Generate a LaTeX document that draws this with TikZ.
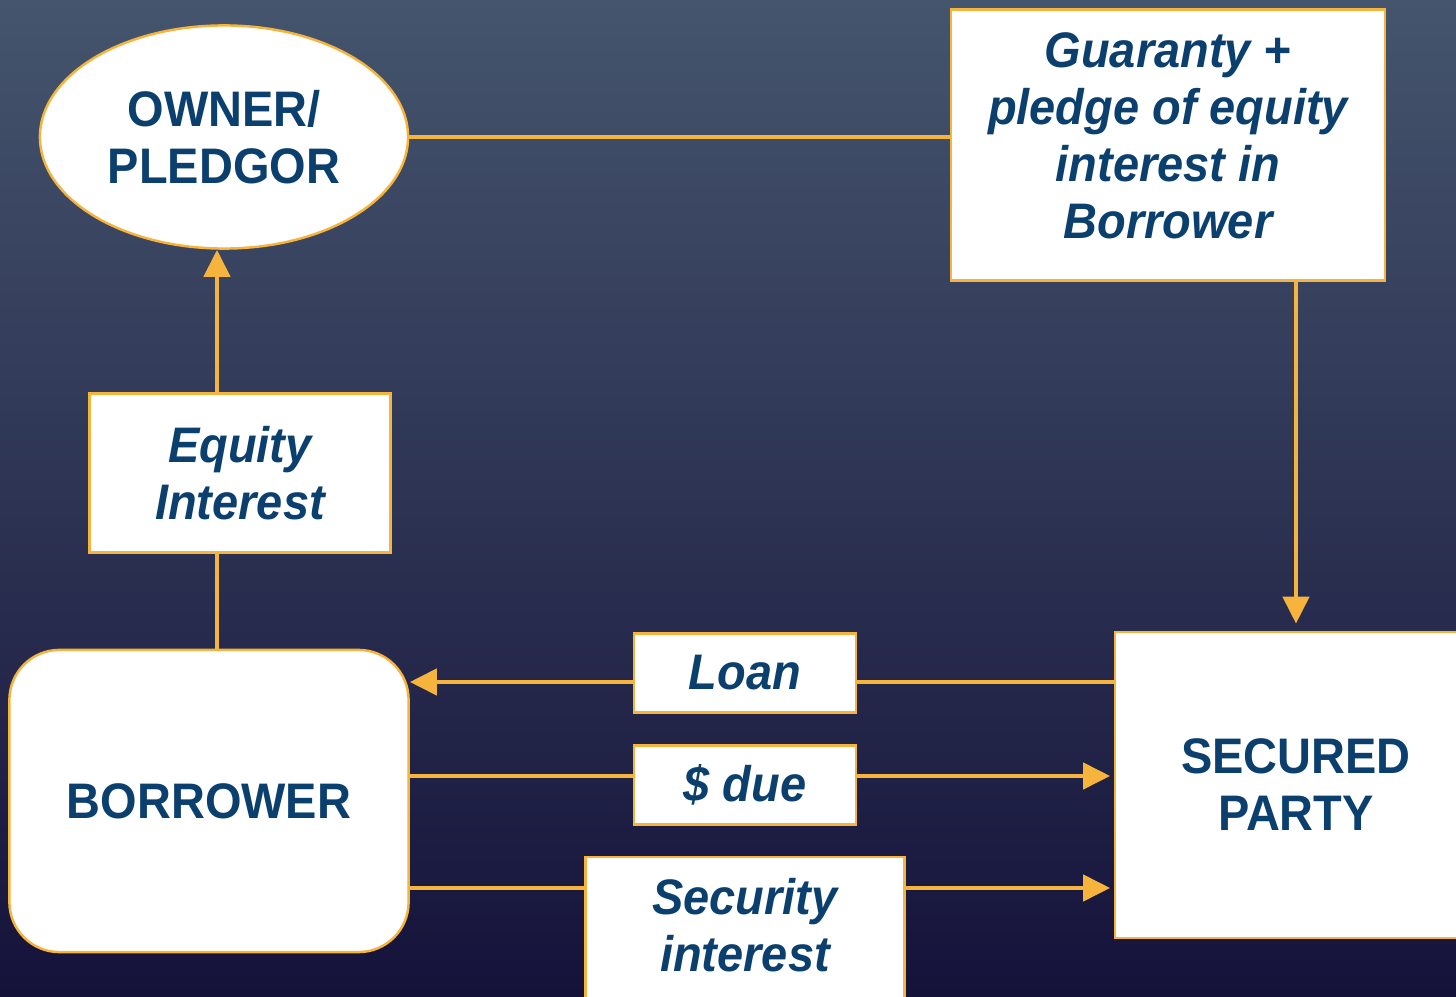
\documentclass[tikz,border=0pt]{standalone}
\usepackage{fontspec}
\setmainfont[FakeStretch=0.94]{Liberation Sans}
\usetikzlibrary{shapes.geometric,arrows.meta,calc}
\definecolor{bgtop}{HTML}{45556D}
\definecolor{bgbot}{HTML}{15123A}
\definecolor{gold}{HTML}{F6B43C}
\definecolor{ink}{HTML}{0B3F6E}
\begin{document}
\begin{tikzpicture}[x=0.01cm,y=-0.01cm,
  txt/.style={text=ink,font=\fontsize{14.2pt}{16.2pt}\selectfont\bfseries,align=center,inner sep=0pt},
  itxt/.style={txt,font=\fontsize{14.2pt}{16.2pt}\selectfont\bfseries\itshape},
  whitebox/.style={draw=gold,line width=0.7pt,fill=white},
  link/.style={draw=gold,line width=1.3pt},
  arr/.style={link,-{Triangle[length=7.7pt,width=7.4pt]}}]
\useasboundingbox (0,0) rectangle (1456,997);
\clip (0,0) rectangle (1456,997);
\shade[top color=bgtop,bottom color=bgbot] (0,0) rectangle (1456,997);

% main parties
\node[txt,whitebox,ellipse,minimum width=3.68cm,minimum height=2.23cm] (own) at (224,137) {OWNER/\\PLEDGOR};
\node[itxt,whitebox,minimum width=4.34cm,minimum height=2.71cm] (gua) at (1168,145) {Guaranty +\\pledge of equity\\interest in\\Borrower\rule[-5.6pt]{0pt}{0pt}};
\node[txt,whitebox,rounded corners=0.5cm,minimum width=3.99cm,minimum height=3.02cm] (bor) at (209,801) {BORROWER};
\node[txt,whitebox,minimum width=3.62cm,minimum height=3.06cm] (sp) at (1296,785) {SECURED\\PARTY};

% rows of the connectors
\coordinate (cx) at (217,0);
\coordinate (yl) at (0,682);
\coordinate (yd) at (0,776);
\coordinate (ys) at (0,888);

% connectors
\draw[link] (own.east) -- (own.east -| gua.west);
\draw[arr,shorten >=2pt] (gua.south -| sp.north) -- (sp.north);
\draw[arr] (bor.north -| cx) -- (own.south -| cx);
\draw[arr] (sp.west |- yl) -- (bor.east |- yl);
\draw[arr,shorten >=1pt] (bor.east |- yd) -- (sp.west |- yd);
\draw[arr,shorten >=1pt] (bor.east |- ys) -- (sp.west |- ys);

% labels on the connectors
\node[itxt,whitebox,minimum width=3.01cm,minimum height=1.59cm] (eq) at (240,473) {Equity\\Interest};
\node[itxt,whitebox,minimum width=2.22cm,minimum height=0.79cm] (loan) at (745,673) {Loan};
\node[itxt,whitebox,minimum width=2.22cm,minimum height=0.79cm] (due) at (745,785) {\$ due};
\node[itxt,whitebox,minimum width=3.19cm,minimum height=1.48cm] (sec) at (745,931) {Security\\interest\rule[-3.6pt]{0pt}{0pt}};
\end{tikzpicture}
\end{document}
